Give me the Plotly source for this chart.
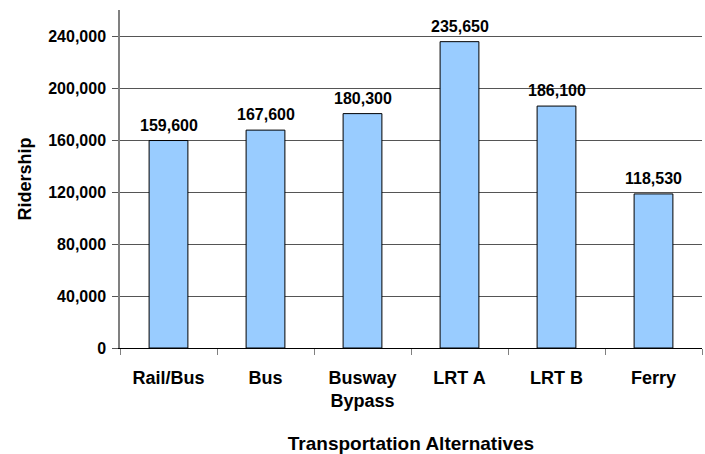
import plotly.graph_objects as go

categories = ["Rail/Bus", "Bus", "Busway<br>Bypass", "LRT A", "LRT B", "Ferry"]
ridership = [159600, 167600, 180300, 235650, 186100, 118530]
labels = ["159,600", "167,600", "180,300", "235,650", "186,100", "118,530"]
y_ticks = [0, 40000, 80000, 120000, 160000, 200000, 240000]
y_tick_text = ["0", "40,000", "80,000", "120,000", "160,000", "200,000", "240,000"]

font_family = "Liberation Sans, Arial, sans-serif"

fig = go.Figure(go.Bar(
    x=categories, y=ridership,
    marker=dict(color="#99CCFF", line=dict(color="#000000", width=1)),
    width=0.4,
))

for c, v, t in zip(categories, ridership, labels):
    fig.add_annotation(
        x=c, y=v, text="<b>%s</b>" % t, showarrow=False,
        yanchor="bottom", yshift=5,
        font=dict(family=font_family, size=16, color="#000000"),
    )

fig.update_layout(
    width=705, height=454,
    margin=dict(l=120, r=3, t=10, b=106),
    paper_bgcolor="white", plot_bgcolor="white",
    showlegend=False,
    font=dict(family=font_family, color="#000000"),
    xaxis=dict(
        automargin=False,
        tickson="boundaries", ticks="outside", ticklen=6, tickcolor="#808080",
        showline=True, linecolor="#000000", linewidth=1,
        ticklabelstandoff=13,
        tickfont=dict(family=font_family, size=18, color="#000000", weight="bold"),
        title=dict(text="<b>Transportation Alternatives</b>", font=dict(size=19), standoff=30),
    ),
    yaxis=dict(
        automargin=False,
        range=[0, 260000],
        tickvals=y_ticks, ticktext=["<b>%s</b>" % t for t in y_tick_text],
        ticks="outside", ticklen=6, tickcolor="#555555",
        ticklabelstandoff=3,
        showgrid=True, gridcolor="#555555", gridwidth=1,
        showline=True, linecolor="#808080", linewidth=1.5,
        zeroline=False,
        tickfont=dict(family=font_family, size=16, color="#000000"),
        title=dict(text="<b>Ridership</b>", font=dict(size=18), standoff=12),
    ),
)

fig.write_html(
    "out.html",
    config={"displayModeBar": False},
    post_script="document.body.style.margin='0';document.body.style.overflow='hidden';",
)
